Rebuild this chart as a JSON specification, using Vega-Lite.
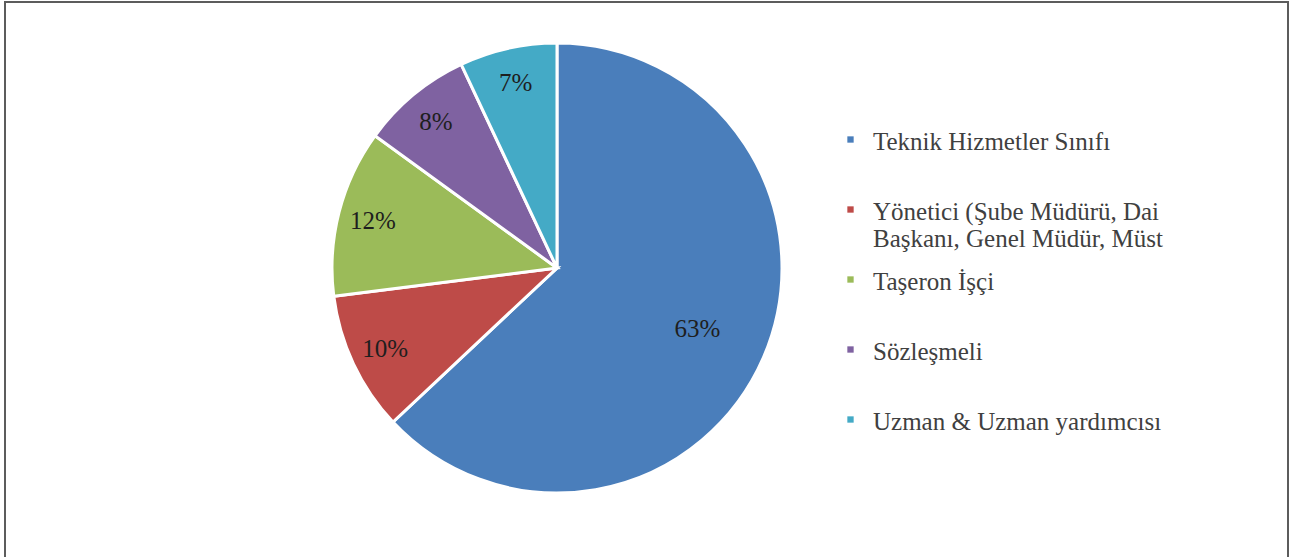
{
  "$schema": "https://vega.github.io/schema/vega-lite/v6.json",
  "width": 1283,
  "height": 557,
  "autosize": {"type": "none"},
  "padding": {"left": 5, "top": 2, "right": 3, "bottom": -2},
  "background": "white",
  "config": {
    "view": {"stroke": null},
    "font": "Liberation Serif",
    "style": {"guide-label": {"dy": -10}}
  },
  "datasets": {
    "paylar": [
      {"grup": "Teknik Hizmetler Sınıfı", "oran": 0.63, "sira": 1},
      {"grup": "Yönetici (Şube Müdürü, Daire Başkanı, Genel Müdür, Müsteşar)", "oran": 0.10, "sira": 2},
      {"grup": "Taşeron İşçi", "oran": 0.12, "sira": 3},
      {"grup": "Sözleşmeli", "oran": 0.08, "sira": 4},
      {"grup": "Uzman & Uzman yardımcısı", "oran": 0.07, "sira": 5}
    ],
    "cerceve": [{"ad": "cerceve"}]
  },
  "layer": [
    {
      "data": {"name": "cerceve"},
      "mark": {"type": "rect", "filled": false, "stroke": "#5c5c5c", "strokeWidth": 2},
      "encoding": {
        "x": {"value": 0},
        "x2": {"value": "width"},
        "y": {"value": 0},
        "y2": {"value": "height"}
      }
    },
    {
      "data": {"name": "paylar"},
      "mark": {"type": "arc", "outerRadius": 225, "stroke": "white", "strokeWidth": 3, "xOffset": -89.5, "yOffset": -12.5},
      "encoding": {
        "theta": {"field": "oran", "type": "quantitative", "stack": true},
        "order": {"field": "sira", "type": "quantitative"},
        "color": {
          "field": "grup",
          "type": "nominal",
          "scale": {
            "domain": ["Teknik Hizmetler Sınıfı", "Yönetici (Şube Müdürü, Daire Başkanı, Genel Müdür, Müsteşar)", "Taşeron İşçi", "Sözleşmeli", "Uzman & Uzman yardımcısı"],
            "range": ["#4a7ebb", "#be4b48", "#9bbb59", "#7f62a1", "#44aac6"]
          },
          "legend": {
            "title": null,
            "orient": "none",
            "legendX": 833,
            "legendY": 125,
            "symbolType": "square",
            "symbolSize": 40,
            "symbolStrokeWidth": 0,
            "labelFont": "Liberation Serif",
            "labelFontSize": 25,
            "labelColor": "#404040",
            "labelOffset": 10,
            "labelLimit": 400,
            "labelBaseline": "top",
            "rowPadding": 15,
            "gridAlign": "all",
            "padding": 0,
            "labelExpr": "datum.label == 'Yönetici (Şube Müdürü, Daire Başkanı, Genel Müdür, Müsteşar)' ? ['Yönetici (Şube Müdürü, Dai', 'Başkanı, Genel Müdür, Müst'] : datum.label"
          }
        }
      }
    },
    {
      "data": {"name": "paylar"},
      "mark": {"type": "text", "radius": 153, "font": "Liberation Serif", "fontSize": 25, "fill": "#1e1e1e", "xOffset": -89.5, "yOffset": -12.5},
      "encoding": {
        "theta": {"field": "oran", "type": "quantitative", "stack": true},
        "order": {"field": "sira", "type": "quantitative"},
        "text": {"condition": {"test": "datum.oran > 0.5", "field": "oran", "type": "quantitative", "format": ".0%"}, "value": ""}
      }
    },
    {
      "data": {"name": "paylar"},
      "mark": {"type": "text", "radius": 190, "font": "Liberation Serif", "fontSize": 25, "fill": "#1e1e1e", "xOffset": -89.5, "yOffset": -12.5},
      "encoding": {
        "theta": {"field": "oran", "type": "quantitative", "stack": true},
        "order": {"field": "sira", "type": "quantitative"},
        "text": {"condition": {"test": "datum.oran < 0.5", "field": "oran", "type": "quantitative", "format": ".0%"}, "value": ""}
      }
    }
  ]
}
